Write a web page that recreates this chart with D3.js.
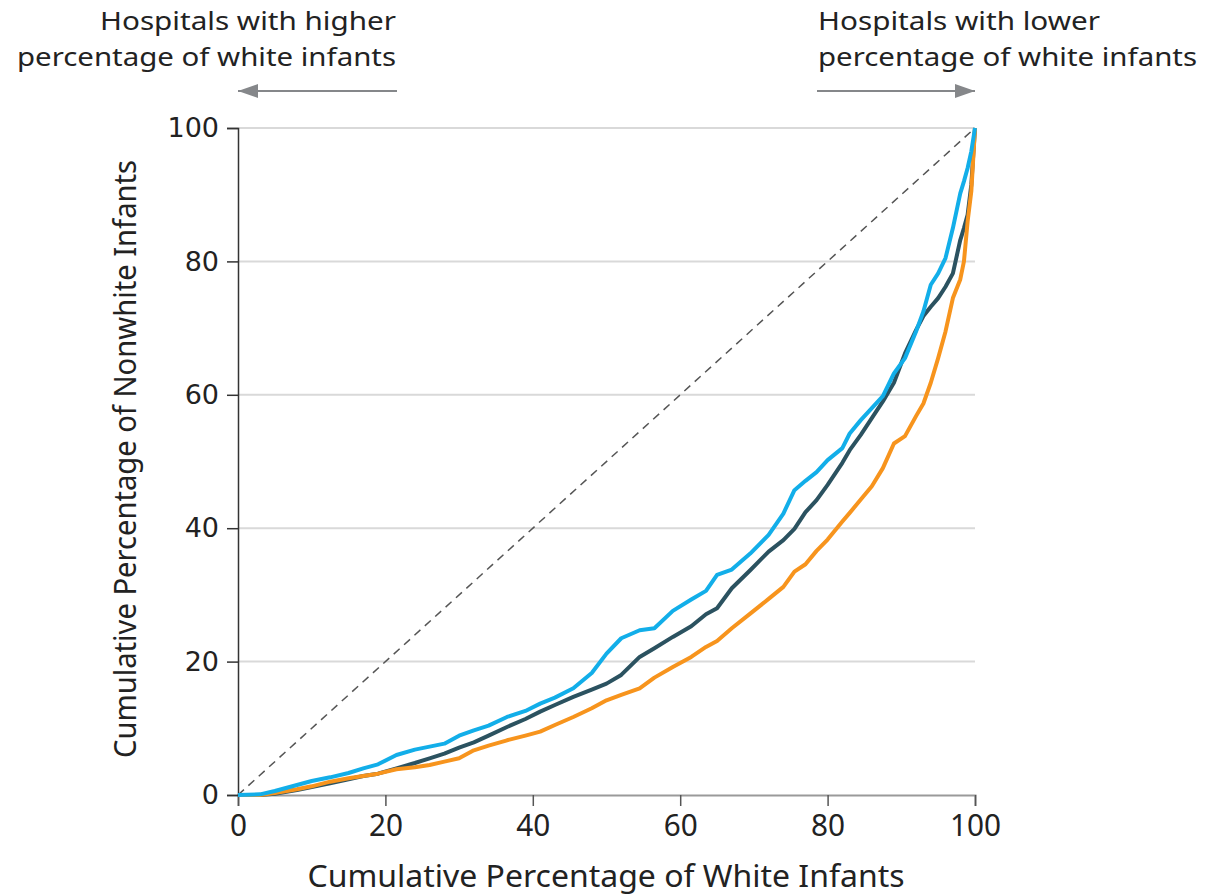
<!DOCTYPE html>
<html>
<head>
<meta charset="utf-8">
<script src="https://cdn.jsdelivr.net/npm/d3@7"></script>
<style>
  html, body { margin: 0; padding: 0; background: #fff; }
  svg { display: block; }
</style>
</head>
<body>
<div id="chart"></div>
<script>
'use strict';

// Cumulative % of white infants (shared x for all three curves).
const whitePct = [0, 3, 5, 8, 10, 12.5, 15, 17, 19, 21.5, 24, 26, 28, 30, 32, 34, 36.5, 39, 41, 43,
  45.5, 48, 50, 52, 54.5, 56.5, 59, 61.5, 63.5, 65, 67, 69.5, 72, 74, 75.5, 77, 78.5, 80, 82, 83,
  84.5, 86, 87.5, 89, 90.5, 92, 93, 94, 95, 96, 97, 98, 98.5, 99, 99.5, 100];

// Cumulative % of nonwhite infants, one array per curve.
const blueSeries = [0, 0.1, 0.6, 1.5, 2.1, 2.65, 3.3, 4.0, 4.6, 6.0, 6.8, 7.25, 7.7, 8.9, 9.7, 10.4,
  11.7, 12.6, 13.7, 14.6, 16.0, 18.3, 21.2, 23.5, 24.7, 25.0, 27.6, 29.3, 30.6, 33.0, 33.8, 36.2,
  39.0, 42.2, 45.7, 47.1, 48.4, 50.2, 52.0, 54.2, 56.2, 58.0, 59.8, 63.2, 65.5, 69.5, 72.5, 76.5,
  78.2, 80.5, 85.0, 90.2, 92.0, 94.0, 96.5, 100];
const darkSeries = [0, 0, 0.2, 0.75, 1.2, 1.75, 2.35, 2.85, 3.2, 4.0, 4.8, 5.5, 6.2, 7.1, 7.9, 8.9,
  10.2, 11.4, 12.5, 13.5, 14.7, 15.8, 16.7, 18.0, 20.7, 22.0, 23.7, 25.3, 27.1, 28.0, 31.0, 33.7,
  36.5, 38.2, 39.9, 42.4, 44.2, 46.5, 49.8, 51.7, 54.0, 56.5, 59.0, 61.8, 66.2, 69.7, 71.8, 73.2,
  74.5, 76.2, 78.2, 83.2, 85.0, 87.0, 91.5, 100];
const orangeSeries = [0, 0, 0.3, 0.85, 1.3, 2.0, 2.5, 2.85, 3.2, 3.85, 4.15, 4.5, 5.0, 5.5, 6.7, 7.4,
  8.2, 8.9, 9.5, 10.5, 11.7, 13.0, 14.2, 15.0, 16.0, 17.6, 19.2, 20.7, 22.2, 23.1, 25.0, 27.2,
  29.4, 31.2, 33.5, 34.6, 36.6, 38.3, 41.0, 42.3, 44.3, 46.3, 49.0, 52.7, 53.8, 56.8, 58.7, 61.8,
  65.5, 69.5, 74.5, 77.3, 80.0, 86.0, 90.5, 100];

const tickValues = [0, 20, 40, 60, 80, 100];

const width = 1205, height = 895;
const margin = { top: 128, right: 230, bottom: 100, left: 238 };

const svg = d3.select('#chart').append('svg')
  .attr('width', width)
  .attr('height', height);

const x = d3.scaleLinear().domain([0, 100]).range([margin.left, width - margin.right]);
const y = d3.scaleLinear().domain([0, 100]).range([height - margin.bottom, margin.top]);

// Horizontal gridlines.
svg.append('g')
  .selectAll('line')
  .data(tickValues.filter(d => d > 0))
  .join('line')
  .attr('x1', x(0)).attr('x2', x(100))
  .attr('y1', d => y(d)).attr('y2', d => y(d))
  .attr('stroke', '#d9d9d9')
  .attr('stroke-width', 2);

// x axis
const xAxis = svg.append('g')
  .attr('transform', `translate(0,${y(0)})`)
  .call(d3.axisBottom(x).tickValues(tickValues).tickSize(11).tickPadding(8));
xAxis.select('.domain').attr('stroke', '#9a9a9a').attr('stroke-width', 2);
xAxis.selectAll('.tick line').attr('stroke', '#555').attr('stroke-width', 1.5);
xAxis.selectAll('.tick text')
  .attr('fill', '#222')
  .attr('font-family', 'Noto Sans, sans-serif')
  .attr('font-size', 31)
  .attr('dy', '0.71em')
  .attr('textLength', d => String(d).length * 17)
  .attr('lengthAdjust', 'spacingAndGlyphs');

// y axis
const yAxis = svg.append('g')
  .attr('transform', `translate(${x(0)},0)`)
  .call(d3.axisLeft(y).tickValues(tickValues).tickSize(11).tickPadding(8));
yAxis.select('.domain').attr('stroke', '#333').attr('stroke-width', 1.5);
yAxis.selectAll('.tick line').attr('stroke', '#333').attr('stroke-width', 1.5);
yAxis.selectAll('.tick text')
  .attr('fill', '#222')
  .attr('font-family', 'DejaVu Sans, sans-serif')
  .attr('font-size', 27);

// Line of equality
svg.append('line')
  .attr('x1', x(0)).attr('y1', y(0))
  .attr('x2', x(100)).attr('y2', y(100))
  .attr('stroke', '#555')
  .attr('stroke-width', 1.5)
  .attr('stroke-dasharray', '8,6');

const line = d3.line()
  .x((d, i) => x(whitePct[i]))
  .y(d => y(d));

const curves = [
  { values: darkSeries, color: '#2b5260' },
  { values: orangeSeries, color: '#f7941d' },
  { values: blueSeries, color: '#12aee9' }
];

svg.append('g')
  .selectAll('path')
  .data(curves)
  .join('path')
  .attr('d', d => line(d.values))
  .attr('fill', 'none')
  .attr('stroke', d => d.color)
  .attr('stroke-width', 4)
  .attr('stroke-linejoin', 'round');

// Axis titles
svg.append('text')
  .attr('x', 606).attr('y', 887)
  .attr('text-anchor', 'middle')
  .attr('font-family', 'Noto Sans, sans-serif')
  .attr('font-size', 31)
  .attr('fill', '#222')
  .attr('textLength', 597)
  .attr('lengthAdjust', 'spacingAndGlyphs')
  .text('Cumulative Percentage of White Infants');

svg.append('text')
  .attr('transform', 'translate(136,459) rotate(-90)')
  .attr('text-anchor', 'middle')
  .attr('font-family', 'Noto Sans, sans-serif')
  .attr('font-size', 31)
  .attr('fill', '#222')
  .attr('textLength', 598)
  .attr('lengthAdjust', 'spacingAndGlyphs')
  .text('Cumulative Percentage of Nonwhite Infants');

// Direction annotations
const defs = svg.append('defs');
defs.append('marker')
  .attr('id', 'arrow')
  .attr('viewBox', '0 0 20 14')
  .attr('refX', 20).attr('refY', 7)
  .attr('markerWidth', 20).attr('markerHeight', 14)
  .attr('markerUnits', 'userSpaceOnUse')
  .attr('orient', 'auto')
  .append('path')
  .attr('d', 'M0,0 L20,7 L0,14 Z')
  .attr('fill', '#85878a');

const notes = [
  { lines: ['Hospitals with higher', 'percentage of white infants'], widths: [296, 379], anchor: 'end', tx: 396, from: 397, to: x(0) },
  { lines: ['Hospitals with lower', 'percentage of white infants'], widths: [282, 379], anchor: 'start', tx: 818, from: 817, to: x(100) }
];

notes.forEach(n => {
  const t = svg.append('text')
    .attr('text-anchor', n.anchor)
    .attr('font-family', 'Noto Sans, sans-serif')
    .attr('font-size', 26)
    .attr('fill', '#222');
  n.lines.forEach((s, i) => {
    t.append('tspan')
      .attr('x', n.tx).attr('y', 30 + i * 36)
      .attr('textLength', n.widths[i])
      .attr('lengthAdjust', 'spacingAndGlyphs')
      .text(s);
  });
  svg.append('line')
    .attr('x1', n.from).attr('y1', 91)
    .attr('x2', n.to).attr('y2', 91)
    .attr('stroke', '#85878a')
    .attr('stroke-width', 2)
    .attr('marker-end', 'url(#arrow)');
});
</script>
</body>
</html>
